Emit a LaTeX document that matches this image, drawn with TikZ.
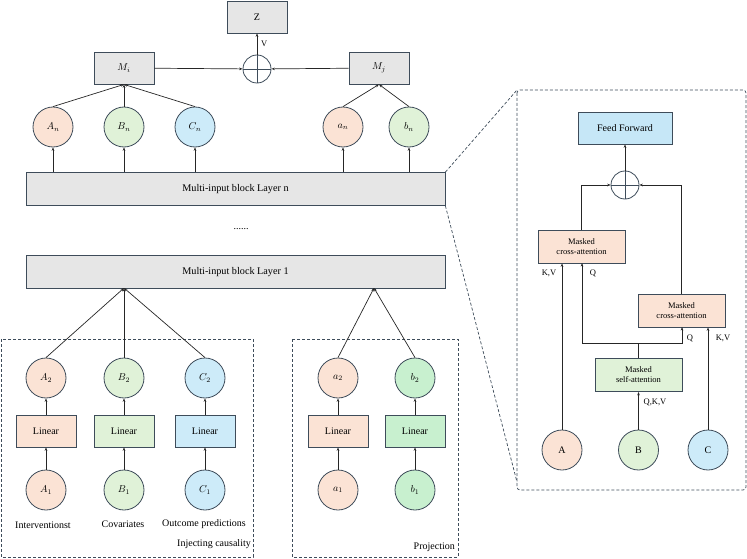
\documentclass[tikz,border=0pt]{standalone}
\usepackage{fontspec}
\setmainfont{Liberation Serif}
\usetikzlibrary{arrows.meta}
\definecolor{peach}{HTML}{FBE3D5}
\definecolor{lgreen}{HTML}{E0F2D8}
\definecolor{dgreen}{HTML}{C8F0CF}
\definecolor{lblue}{HTML}{CDEBF9}
\definecolor{ffblue}{HTML}{C6E7F7}
\definecolor{gbox}{HTML}{E6E6E6}
\definecolor{edge}{HTML}{3E4C5A}
\begin{document}
\begin{tikzpicture}[x=1pt,y=-1pt,
  every node/.style={font=\fontsize{10}{11}\selectfont},
  gb/.style={draw=edge,line width=0.8pt,fill=gbox,minimum width=60pt,minimum height=32pt,inner sep=0pt},
  bigbox/.style={draw=edge,line width=0.8pt,fill=gbox,minimum width=419pt,minimum height=33pt,inner sep=0pt,font=\fontsize{10.2}{11}\selectfont},
  lin/.style={draw=edge,line width=0.8pt,minimum width=60pt,minimum height=32pt,inner sep=0pt},
  att/.style={draw=edge,line width=0.8pt,minimum width=87pt,minimum height=33pt,inner sep=0pt,align=center,font=\fontsize{8.5}{10}\selectfont},
  circ/.style={circle,draw=edge,line width=0.8pt,minimum size=40pt,inner sep=0pt},
  plus/.style={circle,draw=edge,line width=0.8pt,minimum size=28pt,inner sep=0pt},
  arr/.style={draw=black!85,line width=0.7pt,-{Stealth[length=3.5pt,width=2.6pt]}},
  ln/.style={draw=black!85,line width=0.7pt},
  dbox/.style={draw=edge,line width=0.7pt,dashed,dash pattern=on 3pt off 2pt},
  lab/.style={font=\fontsize{8.5}{9}\selectfont,inner sep=1pt}
]
\useasboundingbox (0,0) rectangle (747,559);

% top part
\node[gb] (Z) at (257,17) {Z};
\node[plus] (P) at (257,69) {};
\draw[edge,line width=0.8pt] (P.north) -- (P.south) (P.west) -- (P.east);
\node[gb] (Mi) at (124,68) {$M_i$};
\node[gb] (Mj) at (379,68) {$M_j$};
\draw[arr] (Mi) -- (P);
\draw[arr] (Mj) -- (P);
\draw[arr] (P) -- (Z);
\node[lab,anchor=west] (V) at (260,44) {V};

\node[circ,fill=peach] (An) at (53,127) {$A_n$};
\node[circ,fill=lgreen] (Bn) at (124,127) {$B_n$};
\node[circ,fill=lblue] (Cn) at (195,127) {$C_n$};
\node[circ,fill=peach] (an) at (343,127) {$a_n$};
\node[circ,fill=lgreen] (bn) at (409,127) {$b_n$};
\draw[arr] (An.north) -- (Mi.south);
\draw[arr] (Bn.north) -- (Mi.south);
\draw[arr] (Cn.north) -- (Mi.south);
\draw[arr] (an.north) -- (Mj.south);
\draw[arr] (bn.north) -- (Mj.south);

\node[bigbox] (Ln) at (235.5,189) {Multi-input block Layer n};
\foreach \c in {An,Bn,Cn,an,bn}{
  \draw[arr] (Ln.north -| \c) -- (\c.south);
}
\node (dots) at (241,229) {......};
\node[bigbox] (L1) at (235.5,272) {Multi-input block Layer 1};
\coordinate (L1a) at (124,288);
\coordinate (L1b) at (374,288);

% left group
\node[circ,fill=peach] (A2) at (46,378) {$A_2$};
\node[circ,fill=lgreen] (B2) at (124,378) {$B_2$};
\node[circ,fill=lblue] (C2) at (205,378) {$C_2$};
\node[lin,fill=peach] (LA) at (46,431) {Linear};
\node[lin,fill=lgreen] (LB) at (124,431) {Linear};
\node[lin,fill=lblue] (LC) at (205,431) {Linear};
\node[circ,fill=peach] (A1) at (46,490) {$A_1$};
\node[circ,fill=lgreen] (B1) at (124,490) {$B_1$};
\node[circ,fill=lblue] (C1) at (205,490) {$C_1$};
\foreach \a/\b/\c in {A1/LA/A2,B1/LB/B2,C1/LC/C2}{
  \draw[arr] (\a) -- (\b);
  \draw[arr] (\b) -- (\c);
}
\node (t1) at (43,525) {Interventionst};
\node (t2) at (123,524) {Covariates};
\node (t3) at (204,524) {Outcome predictions};
\node[anchor=east,inner sep=0pt] (t4) at (251,544) {Injecting causality};
\draw[dbox] (1,339) rectangle (253,557);
\draw[arr] (A2.north) -- (L1a);
\draw[arr] (B2.north) -- (L1a);
\draw[arr] (C2.north) -- (L1a);

% right group
\node[circ,fill=peach] (a2) at (338,378) {$a_2$};
\node[circ,fill=dgreen] (b2) at (415,378) {$b_2$};
\node[lin,fill=peach] (La) at (338,431) {Linear};
\node[lin,fill=dgreen] (Lb) at (415,431) {Linear};
\node[circ,fill=peach] (a1) at (338,490) {$a_1$};
\node[circ,fill=dgreen] (b1) at (415,490) {$b_1$};
\foreach \a/\b/\c in {a1/La/a2,b1/Lb/b2}{
  \draw[arr] (\a) -- (\b);
  \draw[arr] (\b) -- (\c);
}
\node[anchor=east,inner sep=0pt] (t5) at (455,547) {Projection};
\draw[dbox] (292,339) rectangle (458,557);
\draw[arr] (a2.north) -- (L1b);
\draw[arr] (b2.north) -- (L1b);

% right panel
\draw[dbox,rounded corners=3pt] (517,90) rectangle (746,490);
\draw[dbox] (Ln.north east) -- (517,90);
\draw[dbox] (Ln.south east) -- (517,482);

\node[lin,fill=ffblue,minimum width=94pt,minimum height=32pt] (FF) at (625,128) {Feed Forward};
\node[plus] (P2) at (625,185) {};
\draw[edge,line width=0.8pt] (P2.north) -- (P2.south) (P2.west) -- (P2.east);
\node[att,fill=peach] (MCA1) at (581.5,246.5) {Masked\\cross-attention};
\node[att,fill=peach] (MCA2) at (681.5,310.5) {Masked\\cross-attention};
\node[att,fill=lgreen] (MSA) at (638.5,375) {Masked\\self-attention};
\node[circ,fill=peach] (A) at (562,450) {A};
\node[circ,fill=lgreen] (B) at (638.5,450) {B};
\node[circ,fill=lblue] (C) at (708,450) {C};

\draw[arr] (P2) -- (FF);
\draw[arr] (MCA1.north) |- (P2.west);
\draw[arr] (MCA2.north) |- (P2.east);
\draw[arr] (A.north) -- (A.north |- MCA1.south);
\draw[arr] (C.north) -- (C.north |- MCA2.south);
\draw[arr] (B.north) -- (MSA.south);
\coordinate (split) at (638.5,343);
\draw[ln] (MSA.north) -- (split);
\draw[arr] (split) -| (582,263);
\draw[arr] (split) -| (682,327);
\node[lab] (kv1) at (549,273) {K,V};
\node[lab] (q1) at (593,273) {Q};
\node[lab] (q2) at (690,338) {Q};
\node[lab] (kv2) at (723,338) {K,V};
\node[lab] (qkv) at (655,402) {Q,K,V};
\end{tikzpicture}
\end{document}
